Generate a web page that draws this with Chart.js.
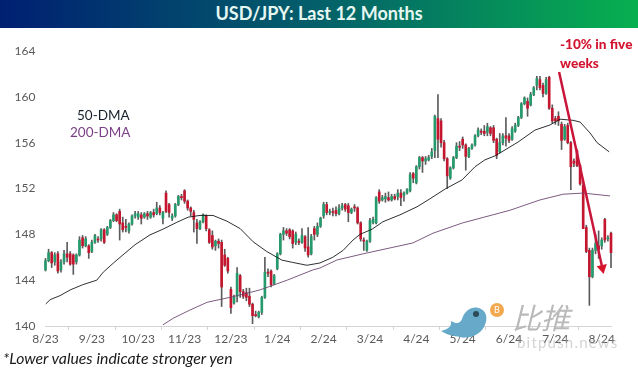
<!DOCTYPE html>
<html>
<head>
<meta charset="utf-8">
<title>USD/JPY: Last 12 Months</title>
<script src="https://cdn.jsdelivr.net/npm/chart.js@4/dist/chart.umd.min.js"></script>
<style>
  html, body { margin: 0; padding: 0; background: #fff; }
  #page { position: relative; width: 638px; height: 370px; overflow: hidden; font-family: Lato, sans-serif; }
  #header {
    position: absolute; left: 0; top: 0; width: 638px; height: 28px; line-height: 27px;
    background: linear-gradient(90deg, #001f72 0%, #03606a 50%, #07b04f 100%);
    color: #e6f7f2; font-weight: 700; font-size: 18px; text-align: center;
  }
  canvas { position: absolute; left: 0; top: 0; }
  .note { position: absolute; white-space: nowrap; }
  #lbl50 { left: 77px; top: 107px; font-size: 13.5px; color: #17202a; }
  #lbl200 { left: 70px; top: 124px; font-size: 13.5px; color: #7a3f86; }
  #lblDrop { left: 560px; top: 35px; font-size: 13.6px; line-height: 19px; font-weight: 900; color: #d3142f; }
  #foot { left: 3px; top: 348px; font-size: 15.8px; font-style: italic; color: #1a1a1a; }
  #mark { position: absolute; left: 440px; top: 300px; }
  #markCn { left: 512px; top: 295px; font-family: "Noto Sans CJK SC", sans-serif; font-size: 29px; font-style: italic; color: #b9b9b9; }
  #markEn { left: 517px; top: 333px; font-size: 15px; letter-spacing: 1.2px; color: rgba(170,170,170,.5); }
</style>
</head>
<body>
<div id="page">
  <canvas id="chart" width="638" height="370"></canvas>
  <div id="header">USD/JPY: Last 12 Months</div>
  <div class="note" id="lbl50">50-DMA</div>
  <div class="note" id="lbl200">200-DMA</div>
  <div class="note" id="lblDrop">-10% in five<br>weeks</div>
  <div class="note" id="foot">*Lower values indicate stronger yen</div>
  <svg id="mark" width="70" height="45" viewBox="0 0 70 45">
    <path d="M1 31 C8 29 12 27 11 21 C16 24 20 24 22 19 C25 9 34 5 41 9 C47 12 48 19 44 27 C39 36 28 39 20 37 C14 36 7 35 1 31 Z" fill="#66a9c9"/>
    <circle cx="36" cy="14" r="3" fill="#2c4a58"/>
    <circle cx="57" cy="10" r="7" fill="#f2a84f"/>
    <text x="57" y="13" font-size="9" fill="#fff" text-anchor="middle" font-family="Lato">B</text>
  </svg>
  <div class="note" id="markCn">比推</div>
  <div class="note" id="markEn">bitpush.news</div>
</div>
<script>
// ===== Data =====
const tickLabels = ['8/23','9/23','10/23','11/23','12/23','1/24','2/24','3/24','4/24','5/24','6/24','7/24','8/24'];
const candlesPerTick = 15;

// one row per month
const opens = [
  144.9,145.7,146.4,145.6,146.3,144.9,145.6,146.3,146.3,146.2,145.6,146.2,147.7,147.0,147.0,
  146.5,147.3,147.6,147.6,148.4,148.0,148.6,149.2,149.7,150.0,149.0,148.7,148.3,148.9,149.6,
  149.5,149.7,149.5,149.8,149.5,149.9,149.8,150.3,149.4,151.6,150.6,149.4,149.6,150.6,151.3,
  151.8,150.9,150.3,149.9,149.0,148.5,149.1,149.6,148.4,147.9,147.0,147.4,147.3,146.2,145.9,
  143.2,142.0,142.6,144.4,143.0,142.9,142.6,141.9,141.0,140.8,141.2,142.5,144.7,144.8,143.7,
  145.0,146.3,148.0,148.3,148.4,148.3,147.3,147.4,147.3,147.8,146.9,146.3,148.5,148.0,148.7,
  149.6,150.6,149.9,150.0,150.1,149.8,150.3,150.6,150.5,149.9,150.4,150.3,149.0,147.5,146.6,
  147.4,149.0,149.0,151.7,151.0,151.1,151.2,151.0,151.3,151.3,151.6,151.4,151.6,151.8,153.3,
  152.5,153.9,154.7,154.4,154.5,154.8,155.3,158.1,157.9,156.0,154.6,152.9,153.8,154.7,155.7,
  156.3,155.8,154.8,155.5,155.8,156.6,157.0,157.0,156.9,157.3,157.3,156.3,155.2,156.0,156.6,
  156.6,156.3,157.0,157.5,158.2,159.4,159.6,159.3,160.2,161.0,161.5,161.0,160.3,161.7,159.0,
  158.1,158.3,157.6,156.3,157.5,156.0,154.4,155.3,154.0,152.3,148.6,146.6,144.3,146.6,147.0,
  147.0,149.3,147.6,148.1
];
const closes = [
  145.7,146.4,145.5,146.2,144.8,145.6,146.3,146.0,145.4,145.4,146.2,147.5,147.0,147.6,146.4,
  147.3,147.9,147.5,148.4,147.3,148.6,149.2,149.7,149.2,148.9,148.4,148.6,148.9,149.6,149.8,
  149.8,149.4,149.8,149.6,149.9,149.7,150.3,149.9,149.9,150.0,149.9,149.6,150.6,151.3,151.2,
  150.9,150.3,150.0,149.3,148.5,149.1,149.7,148.5,147.3,146.9,147.4,147.2,143.4,145.3,144.8,
  141.6,142.5,144.6,143.0,142.6,142.5,141.9,140.9,140.9,141.2,142.5,144.7,144.6,143.6,144.4,
  146.3,148.0,148.3,148.1,147.8,147.2,148.0,147.3,147.9,146.8,146.2,147.8,148.0,148.7,149.4,
  150.6,149.9,150.0,149.9,149.8,150.3,150.5,150.2,149.9,150.2,150.3,149.0,147.6,147.4,147.4,
  149.2,149.3,151.2,150.9,151.2,151.3,151.0,151.3,151.1,151.6,151.2,151.6,151.9,153.2,152.9,
  153.9,154.7,154.4,154.6,154.7,155.2,158.3,156.3,156.0,154.6,153.1,153.8,154.7,155.7,155.6,
  155.8,154.8,155.5,155.8,156.6,157.1,156.9,156.8,157.4,156.8,156.2,154.9,156.0,156.6,156.4,
  156.2,157.2,157.5,158.2,159.4,159.9,159.0,160.2,160.8,161.6,160.8,160.3,161.5,159.0,157.9,
  157.9,157.9,156.2,157.4,156.0,153.9,154.2,154.0,152.4,148.5,146.5,144.3,146.6,147.2,146.7,
  147.5,147.5,147.7,146.4
];
const highs = [
  145.9,146.7,146.5,146.4,146.5,145.8,146.6,147.3,146.5,146.3,146.3,147.8,147.9,147.8,147.1,
  147.5,148.0,147.8,148.5,148.5,148.7,149.3,149.9,149.8,150.2,149.5,149.3,149.0,149.7,150.0,
  150.0,149.9,149.9,150.0,150.0,150.2,150.8,150.5,150.0,151.8,150.7,149.8,150.7,151.4,151.5,
  151.9,151.0,150.4,150.1,149.3,149.2,149.8,149.7,148.5,148.3,147.5,147.6,147.5,146.7,146.0,
  143.4,142.7,145.1,144.5,143.2,143.3,143.3,142.0,141.3,141.3,142.6,146.0,145.0,144.9,144.5,
  146.4,148.1,148.6,148.5,148.5,148.4,148.2,147.6,148.5,147.9,148.6,148.0,148.7,149.0,149.5,
  150.8,150.8,150.2,150.3,150.4,150.6,150.7,150.7,150.7,150.3,150.6,150.4,149.1,147.7,147.5,
  149.4,149.5,151.3,151.9,151.4,151.6,151.7,151.5,151.5,151.9,151.9,151.7,152.0,153.4,153.4,
  154.0,154.8,154.8,154.8,154.9,155.5,158.4,160.2,158.1,156.2,154.7,153.9,154.8,156.0,156.1,
  156.5,155.9,155.6,155.9,156.7,157.3,157.2,157.5,157.7,157.4,157.5,156.4,156.8,156.8,158.2,
  156.8,157.4,157.7,158.3,159.5,160.0,159.9,160.4,160.9,161.8,161.8,161.2,161.7,161.8,159.3,
  158.3,158.7,157.8,157.6,157.7,156.1,154.6,155.4,154.1,152.6,148.8,146.8,146.8,148.0,148.3,
  147.7,149.4,147.9,148.2
];
const lows = [
  144.8,145.6,145.1,145.3,144.6,144.7,145.4,145.6,145.3,144.5,145.4,146.1,146.8,146.9,145.9,
  146.4,147.2,147.3,147.4,147.2,147.9,148.5,149.1,149.1,147.5,148.2,148.2,148.1,148.8,149.4,
  149.3,148.9,149.4,149.3,149.4,149.5,149.7,149.7,148.9,149.9,149.5,149.2,149.5,150.5,151.0,
  150.7,150.1,149.6,148.2,147.2,148.4,149.0,148.3,147.2,146.7,146.6,146.8,141.7,145.2,144.6,
  141.1,141.9,142.1,142.5,142.4,142.2,141.7,140.2,140.8,140.7,141.0,142.4,144.3,143.4,143.6,
  144.9,146.2,147.5,147.9,147.6,146.8,147.1,147.1,147.2,146.5,146.0,146.2,147.5,147.8,148.6,
  149.4,149.7,149.7,149.6,149.6,149.7,150.1,150.0,149.1,149.8,150.0,148.9,147.4,146.6,146.5,
  147.3,148.9,148.9,150.7,150.9,150.8,150.9,150.9,151.0,151.0,150.5,150.9,151.5,151.7,152.5,
  152.4,153.7,153.4,154.1,154.4,154.6,154.7,154.7,155.6,154.4,152.0,152.8,153.7,154.6,155.3,
  155.5,153.6,154.7,155.4,155.7,156.5,156.7,156.6,156.6,156.6,156.0,154.6,155.1,155.8,155.7,
  156.0,156.2,156.9,157.4,158.1,159.3,158.3,159.2,160.1,160.6,160.6,160.0,160.2,158.9,157.7,
  157.6,157.5,155.4,156.2,155.9,151.9,153.9,153.9,152.3,148.5,146.4,141.8,144.2,146.3,145.9,
  146.7,147.3,147.4,145.1
];

const ma50X = [0,1.5,4.7,8,12,16.6,18.7,22,25.7,29,33.8,38,42.5,46.2,50,54.2,58.7,63,67.2,71.6,76.5,80,84.6,88.8,93,96.3,99.5,101.8,105.7,109.2,114.7,120.2,124.4,129.3,134.8,139,142.2,145.5,152.9,158.4,163.3,166.5,170.7,173,176.2,178.5,182.4];
const ma50 = [141.9,142.3,142.65,143.15,143.6,144,144.7,145.5,146.35,147.1,147.95,148.45,149.05,149.5,149.65,149.65,149.15,148.5,147.35,146.5,145.75,145.55,145.3,145.5,146,146.6,147.5,148,148.45,149.1,149.7,150.4,151.1,151.95,152.75,153.9,154.5,154.85,156.05,157.1,157.55,158.05,157.95,157.8,156.85,156,155.2];
const ma200X = [38,41.3,46.8,52.3,60.7,69.4,78.2,86.6,88.8,94.3,102.8,118.9,125.4,135,150.3,160,167.5,174,182.7];
const ma200 = [140.1,140.67,141.4,142.07,142.56,143.15,144,144.9,145.06,145.76,146.3,147.25,148.1,149,150.1,151,151.5,151.6,151.35];

// hand-drawn arrow on the original, in chart values
const arrowX = [166.2, 180.2];
const arrowY = [162.16, 145.06];

// ===== Chart =====
const UP = '#259a6c';
const DOWN = '#c4172f';

const wicks = opens.map((_, i) => ({ x: i, y: [lows[i], highs[i]] }));
const bodies = opens.map((o, i) => ({ x: i, y: [o, closes[i]] }));
const toPoints = (xs, ys) => xs.map((x, i) => ({ x, y: ys[i] }));

new Chart(document.getElementById('chart'), {
  type: 'bar',
  data: {
    datasets: [
      { data: wicks, backgroundColor: '#5c5c5c', barThickness: 1, grouped: false, order: 4, clip: false },
      {
        data: bodies,
        backgroundColor: opens.map((o, i) => (closes[i] >= o ? UP : DOWN)),
        barThickness: 2, grouped: false, order: 3, clip: false,
      },
      { type: 'line', data: toPoints(ma50X, ma50), borderColor: '#14181c', borderWidth: 0.9, pointRadius: 0, order: 2 },
      { type: 'line', data: toPoints(ma200X, ma200), borderColor: '#6d4a70', borderWidth: 0.9, pointRadius: 0, order: 2 },
      {
        type: 'line', data: toPoints(arrowX, arrowY), borderColor: '#c9153a', borderWidth: 2.5,
        pointRadius: [0, 6], pointStyle: 'triangle', pointRotation: 168,
        pointBackgroundColor: '#d8142c', pointBorderColor: '#d8142c', pointBorderWidth: 0, order: 1,
      },
    ],
  },
  options: {
    responsive: false,
    animation: false,
    events: [],
    layout: { padding: { top: 51, right: 27, left: 0, bottom: 0 } },
    plugins: { legend: { display: false }, tooltip: { enabled: false } },
    scales: {
      x: {
        type: 'linear', offset: false, min: 0, max: 183,
        afterFit: (s) => { s.height = 44; },
        border: { color: '#d4d4d4' },
        grid: { drawOnChartArea: false, color: '#d4d4d4', tickLength: 4 },
        ticks: {
          stepSize: candlesPerTick, includeBounds: false, maxRotation: 0, autoSkip: false, padding: 2,
          color: '#595959', font: { family: 'Lato', size: 12 },
          callback: (v) => tickLabels[v / candlesPerTick],
        },
      },
      y: {
        min: 140, max: 164,
        afterFit: (s) => { s.width = 45.5; },
        border: { display: false },
        grid: { display: false },
        ticks: { stepSize: 4, padding: 2, color: '#595959', font: { family: 'Lato', size: 12 } },
      },
    },
  },
});
</script>
</body>
</html>
